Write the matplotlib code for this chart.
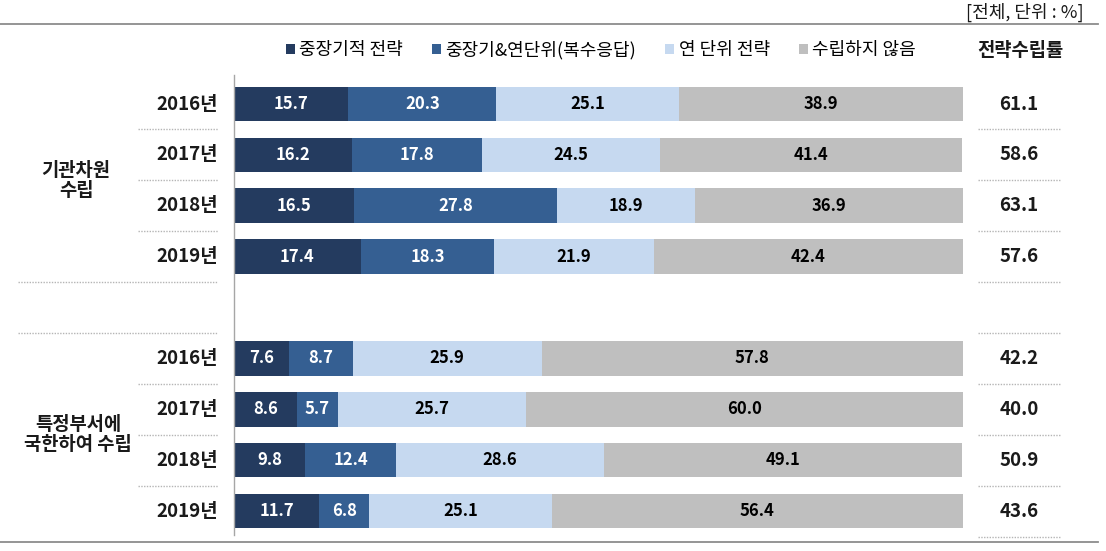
import matplotlib.pyplot as plt
from matplotlib.patches import Patch
from matplotlib.lines import Line2D
from matplotlib.transforms import blended_transform_factory

plt.rcParams['font.family'] = ['Noto Sans CJK KR', 'DejaVu Sans']

categories = ['중장기적 전략', '중장기&연단위(복수응답)', '연 단위 전략', '수립하지 않음']
years = ['2016년', '2017년', '2018년', '2019년']
groups = ['기관차원\n수립', '특정부서에\n국한하여 수립']

org_long = [15.7, 16.2, 16.5, 17.4]
org_both = [20.3, 17.8, 27.8, 18.3]
org_year = [25.1, 24.5, 18.9, 21.9]
org_none = [38.9, 41.4, 36.9, 42.4]
org_rate = [61.1, 58.6, 63.1, 57.6]

dept_long = [7.6, 8.6, 9.8, 11.7]
dept_both = [8.7, 5.7, 12.4, 6.8]
dept_year = [25.9, 25.7, 28.6, 25.1]
dept_none = [57.8, 60.0, 49.1, 56.4]
dept_rate = [42.2, 40.0, 50.9, 43.6]

colors = ['#243b5f', '#355f92', '#c6d9f0', '#bfbfbf']
txt_colors = ['white', 'white', 'black', 'black']

W, H = 1106, 551
fig = plt.figure(figsize=(W / 100, H / 100), dpi=100)

def fx(px):
    return px / W

def fy(py):
    return 1 - py / H

# bar area: x 234..963 px, y 75..535 px
ax = fig.add_axes([fx(234), fy(535), fx(963) - fx(234), fy(75) - fy(535)])
ax.set_xlim(0, 100)
ax.set_ylim(8.47, -0.57)
ax.axis('off')

pos = [0, 1, 2, 3, 5, 6, 7, 8]
series = [org_long + dept_long, org_both + dept_both,
          org_year + dept_year, org_none + dept_none]
rates = org_rate + dept_rate

left = [0.0] * len(pos)
for k, vals in enumerate(series):
    ax.barh(pos, vals, left=left, height=0.68, color=colors[k], linewidth=0)
    for p, l, v in zip(pos, left, vals):
        ax.text(l + v / 2, p, f'{v:.1f}', ha='center', va='center',
                fontsize=12, fontweight='bold', color=txt_colors[k])
    left = [a + b for a, b in zip(left, vals)]

# vertical axis line
fig.add_artist(Line2D([fx(234), fx(234)], [fy(75), fy(535)], color='#a6a6a6', lw=1))

# top and bottom rules
fig.add_artist(Line2D([0, fx(1098)], [fy(24), fy(24)], color='#8c8c8c', lw=1.3))
fig.add_artist(Line2D([0, fx(1098)], [fy(542), fy(542)], color='#8c8c8c', lw=1.3))

tr = blended_transform_factory(fig.transFigure, ax.transData)
dot = dict(transform=tr, clip_on=False, color='#b5b5b5', lw=1, ls=(0, (1, 1)))

# year labels, rates, separators
for i, p in enumerate(pos):
    ax.text(fx(218), p, years[i % 4], transform=tr, ha='right', va='center',
            fontsize=13.5, fontweight='bold', color='#1a1a1a')
    ax.text(fx(1019), p, f'{rates[i]:.1f}', transform=tr, ha='center', va='center',
            fontsize=13.5, fontweight='bold', color='#1a1a1a')
    ax.plot([fx(978), fx(1060)], [p + 0.5, p + 0.5], **dot)
    if i % 4 < 3:
        ax.plot([fx(138), fx(218)], [p + 0.5, p + 0.5], **dot)

# right separator at top of second group, long left separators in the gap
ax.plot([fx(978), fx(1060)], [4.5, 4.5], **dot)
for yy in [3.5, 4.5]:
    ax.plot([fx(18), fx(218)], [yy, yy], **dot)

# group labels
ax.text(fx(76), 1.5, groups[0], transform=tr, ha='center', va='center',
        fontsize=13.5, fontweight='bold', color='#1a1a1a', linespacing=1.05)
ax.text(fx(78), 6.5, groups[1], transform=tr, ha='center', va='center',
        fontsize=13.5, fontweight='bold', color='#1a1a1a', linespacing=1.05)

# header
fig.text(fx(1084), fy(12), '[전체, 단위 : %]', ha='right', va='center',
         fontsize=13, color='#1a1a1a')
fig.text(fx(1020), fy(50), '전략수립률', ha='center', va='center',
         fontsize=13.5, fontweight='bold', color='#1a1a1a')

handles = [Patch(facecolor=c, edgecolor='none') for c in colors]
fig.legend(handles, categories, loc='center', bbox_to_anchor=(fx(601), fy(50)),
           ncol=4, frameon=False, fontsize=13, handlelength=0.5, handleheight=0.5,
           handletextpad=0.25, columnspacing=1.6)

fig.savefig('out.png', dpi=100)
